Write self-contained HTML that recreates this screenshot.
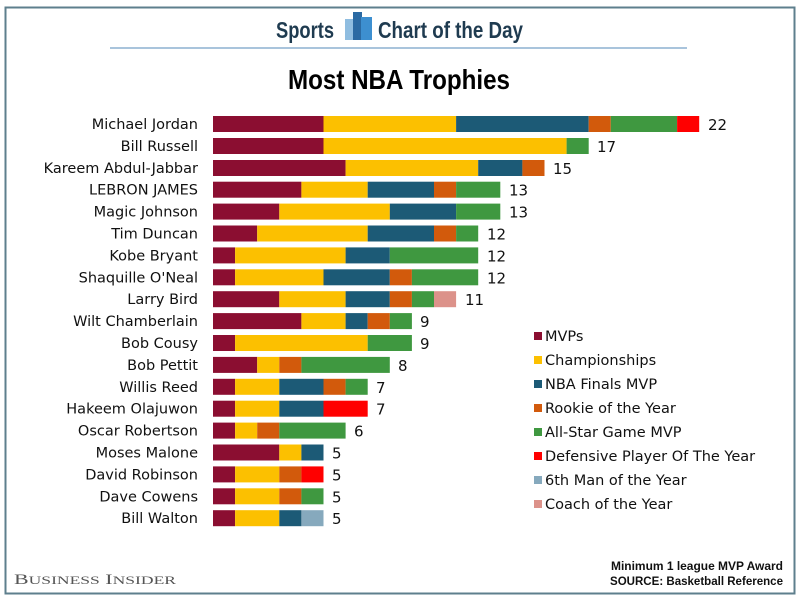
<!DOCTYPE html>
<html><head><meta charset="utf-8"><style>html,body{margin:0;padding:0;background:#fff}svg{display:block}</style></head>
<body>
<svg width="800" height="600" viewBox="0 0 800 600" xmlns="http://www.w3.org/2000/svg">
<rect x="0" y="0" width="800" height="600" fill="#fff"/>
<rect x="5.5" y="7.5" width="789" height="586" fill="none" stroke="#5e7f8d" stroke-width="2"/>
<text x="276" y="38" font-family="Liberation Sans Narrow, Liberation Sans, sans-serif" font-weight="bold" font-size="23" fill="#1f3b50" textLength="58" lengthAdjust="spacingAndGlyphs">Sports</text>
<rect x="345" y="19" width="10" height="21" fill="#8fbde0"/>
<rect x="353" y="12" width="9" height="28" fill="#2b6aa3"/>
<rect x="361" y="17" width="11" height="23" fill="#3d8fd0"/>
<text x="378" y="38" font-family="Liberation Sans Narrow, Liberation Sans, sans-serif" font-weight="bold" font-size="23" fill="#1f3b50" textLength="145" lengthAdjust="spacingAndGlyphs">Chart of the Day</text>
<line x1="110" y1="48" x2="687" y2="48" stroke="#a9c4dc" stroke-width="2"/>
<text x="288" y="89" font-family="Liberation Sans Narrow, Liberation Sans, sans-serif" font-weight="bold" font-size="28" fill="#000" textLength="222" lengthAdjust="spacingAndGlyphs">Most NBA Trophies</text>

<defs>
<style>
.M{fill:#8b0e31}.C{fill:#fcc000}.F{fill:#1c5a76}.R{fill:#d25a0c}.A{fill:#3f9840}.D{fill:#ff0000}.S{fill:#86a9bd}.K{fill:#dc928a}
.lab{font-family:"DejaVu Sans",sans-serif;font-size:14.5px;fill:#111;text-anchor:end}
.val{font-family:"DejaVu Sans",sans-serif;font-size:15px;fill:#111}
.leg{font-family:"DejaVu Sans",sans-serif;font-size:14.5px;fill:#111}
</style>
</defs>

<g transform="translate(213,116) scale(22.1,1)"><rect class="M" x="0" width="5" height="16"/><rect class="C" x="5" width="6" height="16"/><rect class="F" x="11" width="6" height="16"/><rect class="R" x="17" width="1" height="16"/><rect class="A" x="18" width="3" height="16"/><rect class="D" x="21" width="1" height="16"/></g>
<g transform="translate(213,138) scale(22.1,1)"><rect class="M" x="0" width="5" height="16"/><rect class="C" x="5" width="11" height="16"/><rect class="A" x="16" width="1" height="16"/></g>
<g transform="translate(213,160) scale(22.1,1)"><rect class="M" x="0" width="6" height="16"/><rect class="C" x="6" width="6" height="16"/><rect class="F" x="12" width="2" height="16"/><rect class="R" x="14" width="1" height="16"/></g>
<g transform="translate(213,181.7) scale(22.1,1)"><rect class="M" x="0" width="4" height="16"/><rect class="C" x="4" width="3" height="16"/><rect class="F" x="7" width="3" height="16"/><rect class="R" x="10" width="1" height="16"/><rect class="A" x="11" width="2" height="16"/></g>
<g transform="translate(213,203.6) scale(22.1,1)"><rect class="M" x="0" width="3" height="16"/><rect class="C" x="3" width="5" height="16"/><rect class="F" x="8" width="3" height="16"/><rect class="A" x="11" width="2" height="16"/></g>
<g transform="translate(213,225.5) scale(22.1,1)"><rect class="M" x="0" width="2" height="16"/><rect class="C" x="2" width="5" height="16"/><rect class="F" x="7" width="3" height="16"/><rect class="R" x="10" width="1" height="16"/><rect class="A" x="11" width="1" height="16"/></g>
<g transform="translate(213,247.4) scale(22.1,1)"><rect class="M" x="0" width="1" height="16"/><rect class="C" x="1" width="5" height="16"/><rect class="F" x="6" width="2" height="16"/><rect class="A" x="8" width="4" height="16"/></g>
<g transform="translate(213,269.3) scale(22.1,1)"><rect class="M" x="0" width="1" height="16"/><rect class="C" x="1" width="4" height="16"/><rect class="F" x="5" width="3" height="16"/><rect class="R" x="8" width="1" height="16"/><rect class="A" x="9" width="3" height="16"/></g>
<g transform="translate(213,291.2) scale(22.1,1)"><rect class="M" x="0" width="3" height="16"/><rect class="C" x="3" width="3" height="16"/><rect class="F" x="6" width="2" height="16"/><rect class="R" x="8" width="1" height="16"/><rect class="A" x="9" width="1" height="16"/><rect class="K" x="10" width="1" height="16"/></g>
<g transform="translate(213,313.1) scale(22.1,1)"><rect class="M" x="0" width="4" height="16"/><rect class="C" x="4" width="2" height="16"/><rect class="F" x="6" width="1" height="16"/><rect class="R" x="7" width="1" height="16"/><rect class="A" x="8" width="1" height="16"/></g>
<g transform="translate(213,335) scale(22.1,1)"><rect class="M" x="0" width="1" height="16"/><rect class="C" x="1" width="6" height="16"/><rect class="A" x="7" width="2" height="16"/></g>
<g transform="translate(213,356.9) scale(22.1,1)"><rect class="M" x="0" width="2" height="16"/><rect class="C" x="2" width="1" height="16"/><rect class="R" x="3" width="1" height="16"/><rect class="A" x="4" width="4" height="16"/></g>
<g transform="translate(213,378.8) scale(22.1,1)"><rect class="M" x="0" width="1" height="16"/><rect class="C" x="1" width="2" height="16"/><rect class="F" x="3" width="2" height="16"/><rect class="R" x="5" width="1" height="16"/><rect class="A" x="6" width="1" height="16"/></g>
<g transform="translate(213,400.7) scale(22.1,1)"><rect class="M" x="0" width="1" height="16"/><rect class="C" x="1" width="2" height="16"/><rect class="F" x="3" width="2" height="16"/><rect class="D" x="5" width="2" height="16"/></g>
<g transform="translate(213,422.6) scale(22.1,1)"><rect class="M" x="0" width="1" height="16"/><rect class="C" x="1" width="1" height="16"/><rect class="R" x="2" width="1" height="16"/><rect class="A" x="3" width="3" height="16"/></g>
<g transform="translate(213,444.5) scale(22.1,1)"><rect class="M" x="0" width="3" height="16"/><rect class="C" x="3" width="1" height="16"/><rect class="F" x="4" width="1" height="16"/></g>
<g transform="translate(213,466.4) scale(22.1,1)"><rect class="M" x="0" width="1" height="16"/><rect class="C" x="1" width="2" height="16"/><rect class="R" x="3" width="1" height="16"/><rect class="D" x="4" width="1" height="16"/></g>
<g transform="translate(213,488.3) scale(22.1,1)"><rect class="M" x="0" width="1" height="16"/><rect class="C" x="1" width="2" height="16"/><rect class="R" x="3" width="1" height="16"/><rect class="A" x="4" width="1" height="16"/></g>
<g transform="translate(213,510.2) scale(22.1,1)"><rect class="M" x="0" width="1" height="16"/><rect class="C" x="1" width="2" height="16"/><rect class="F" x="3" width="1" height="16"/><rect class="S" x="4" width="1" height="16"/></g>

<text class="lab" x="198" y="129">Michael Jordan</text>
<text class="lab" x="198" y="151">Bill Russell</text>
<text class="lab" x="198" y="173">Kareem Abdul-Jabbar</text>
<text class="lab" x="198" y="194.7">LEBRON JAMES</text>
<text class="lab" x="198" y="216.6">Magic Johnson</text>
<text class="lab" x="198" y="238.5">Tim Duncan</text>
<text class="lab" x="198" y="260.4">Kobe Bryant</text>
<text class="lab" x="198" y="282.3">Shaquille O'Neal</text>
<text class="lab" x="198" y="304.2">Larry Bird</text>
<text class="lab" x="198" y="326.1">Wilt Chamberlain</text>
<text class="lab" x="198" y="348">Bob Cousy</text>
<text class="lab" x="198" y="369.9">Bob Pettit</text>
<text class="lab" x="198" y="391.8">Willis Reed</text>
<text class="lab" x="198" y="413.7">Hakeem Olajuwon</text>
<text class="lab" x="198" y="435.6">Oscar Robertson</text>
<text class="lab" x="198" y="457.5">Moses Malone</text>
<text class="lab" x="198" y="479.4">David Robinson</text>
<text class="lab" x="198" y="501.3">Dave Cowens</text>
<text class="lab" x="198" y="523.2">Bill Walton</text>

<text class="val" x="708" y="130">22</text>
<text class="val" x="597" y="152">17</text>
<text class="val" x="553" y="174">15</text>
<text class="val" x="509" y="195.7">13</text>
<text class="val" x="509" y="217.6">13</text>
<text class="val" x="487" y="239.5">12</text>
<text class="val" x="487" y="261.4">12</text>
<text class="val" x="487" y="283.3">12</text>
<text class="val" x="465" y="305.2">11</text>
<text class="val" x="420" y="327.1">9</text>
<text class="val" x="420" y="349">9</text>
<text class="val" x="398" y="370.9">8</text>
<text class="val" x="376" y="392.8">7</text>
<text class="val" x="376" y="414.7">7</text>
<text class="val" x="354" y="436.6">6</text>
<text class="val" x="332" y="458.5">5</text>
<text class="val" x="332" y="480.4">5</text>
<text class="val" x="332" y="502.3">5</text>
<text class="val" x="332" y="524.2">5</text>

<rect class="M" x="534" y="332" width="8" height="8"/><text class="leg" x="545" y="341">MVPs</text>
<rect class="C" x="534" y="356" width="8" height="8"/><text class="leg" x="545" y="365">Championships</text>
<rect class="F" x="534" y="380" width="8" height="8"/><text class="leg" x="545" y="389">NBA Finals MVP</text>
<rect class="R" x="534" y="404" width="8" height="8"/><text class="leg" x="545" y="413">Rookie of the Year</text>
<rect class="A" x="534" y="428" width="8" height="8"/><text class="leg" x="545" y="437">All-Star Game MVP</text>
<rect class="D" x="534" y="452" width="8" height="8"/><text class="leg" x="545" y="461">Defensive Player Of The Year</text>
<rect class="S" x="534" y="476" width="8" height="8"/><text class="leg" x="545" y="485">6th Man of the Year</text>
<rect class="K" x="534" y="500" width="8" height="8"/><text class="leg" x="545" y="509">Coach of the Year</text>

<text x="783" y="570" text-anchor="end" font-family="Liberation Sans Narrow, Liberation Sans, sans-serif" font-weight="bold" font-size="12" fill="#111" textLength="172" lengthAdjust="spacingAndGlyphs">Minimum 1 league MVP Award</text>
<text x="783" y="585" text-anchor="end" font-family="Liberation Sans Narrow, Liberation Sans, sans-serif" font-weight="bold" font-size="12" fill="#111" textLength="173" lengthAdjust="spacingAndGlyphs">SOURCE: Basketball Reference</text>
<text x="14" y="584" font-family="Liberation Serif, serif" font-size="15" fill="#555" textLength="162" lengthAdjust="spacingAndGlyphs">B<tspan font-size="12">USINESS</tspan> I<tspan font-size="12">NSIDER</tspan></text>
</svg>
</body></html>
